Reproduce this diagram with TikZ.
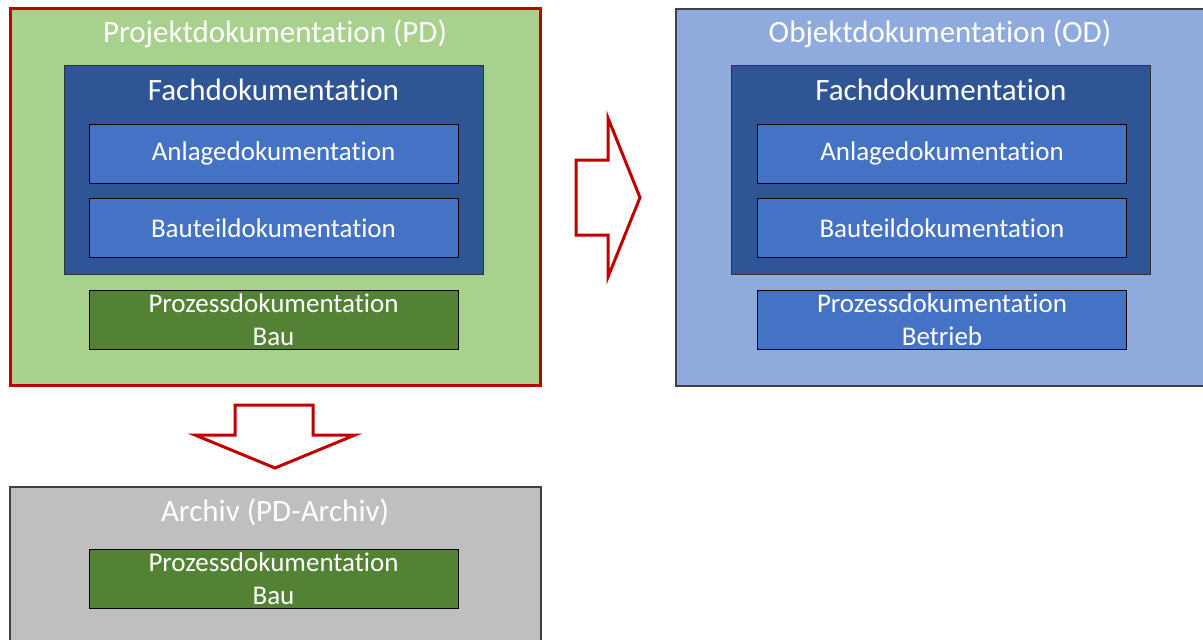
\documentclass[tikz,border=0pt]{standalone}
\usepackage{fontspec}
\setmainfont{Carlito}[Ligatures=NoCommon]
\usepackage{tikz}

\definecolor{pdgreen}{HTML}{A9D18E}
\definecolor{baugreen}{HTML}{548235}
\definecolor{fachblue}{HTML}{2F5597}
\definecolor{innerblue}{HTML}{4472C4}
\definecolor{odblue}{HTML}{8FAADC}
\definecolor{archgray}{HTML}{BFBFBF}
\definecolor{pdred}{HTML}{C00000}

\begin{document}
\begin{tikzpicture}[x=1pt,y=-1pt]
	\tikzstyle{box}=[rectangle, inner sep=0pt, text=white, align=center]
	\tikzstyle{outer}=[box, draw=black!75, line width=1.2pt]
	\tikzstyle{fach}=[box, fill=fachblue, draw=black!80, line width=0.8pt, minimum width=419pt, minimum height=209pt]
	\tikzstyle{part}=[box, fill=innerblue, draw=black, line width=0.8pt, minimum width=369pt, minimum height=59pt, font=\fontsize{27}{33}\selectfont]
	\tikzstyle{bau}=[part, fill=baugreen]
	\tikzstyle{ttl}=[text=white, inner sep=0pt, font=\fontsize{31}{36}\selectfont]
	\tikzstyle{fttl}=[text=white, inner sep=0pt, font=\fontsize{31}{36}\selectfont]
	\tikzstyle{blockarrow}=[draw=pdred, line width=3pt, fill=white, line join=miter]

	\useasboundingbox (0,0) rectangle (1203,640);

	% Projektdokumentation
	\node[outer, fill=pdgreen, draw=pdred, line width=3pt, minimum width=530pt, minimum height=377pt] (pd) at (275,196.5) {};
	\node[ttl] (pdt) at (275,34) {Projektdokumentation (PD)};
	\node[fach] (pdf) at (273.5,169.5) {};
	\node[fttl] (pdft) at (273.5,90) {Fachdokumentation};
	\node[part] (pda) at (273.5,153.5) {Anlagedokumentation};
	\node[part] (pdb) at (273.5,228) {Bauteildokumentation};
	\node[bau] (pdp) at (273.5,319.5) {Prozessdokumentation\\Bau};

	% Objektdokumentation
	\node[outer, fill=odblue, minimum width=540pt, minimum height=377pt] (od) at (946,197.5) {};
	\node[ttl] (odt) at (940,34) {Objektdokumentation (OD)};
	\node[fach] (odf) at (941,169.5) {};
	\node[fttl] (odft) at (941,90) {Fachdokumentation};
	\node[part] (oda) at (942,153.5) {Anlagedokumentation};
	\node[part] (odb) at (942,228) {Bauteildokumentation};
	\node[part] (odp) at (942,319.5) {Prozessdokumentation\\Betrieb};

	% Archiv
	\node[outer, fill=archgray, minimum width=531pt, minimum height=170pt] (ar) at (275.5,572) {};
	\node[ttl] (art) at (275,512) {Archiv (PD-Archiv)};
	\node[bau] (arp) at (273.5,579) {Prozessdokumentation\\Bau};

	% Pfeile
	\draw[blockarrow] (576,160) -- (608,160) -- (608,118) -- (640,197.5)
		-- (608,277) -- (608,235) -- (576,235) -- cycle;
	\draw[blockarrow] (235,405) -- (313,405) -- (313,435) -- (355,435)
		-- (275,468) -- (195,435) -- (235,435) -- cycle;
\end{tikzpicture}
\end{document}
